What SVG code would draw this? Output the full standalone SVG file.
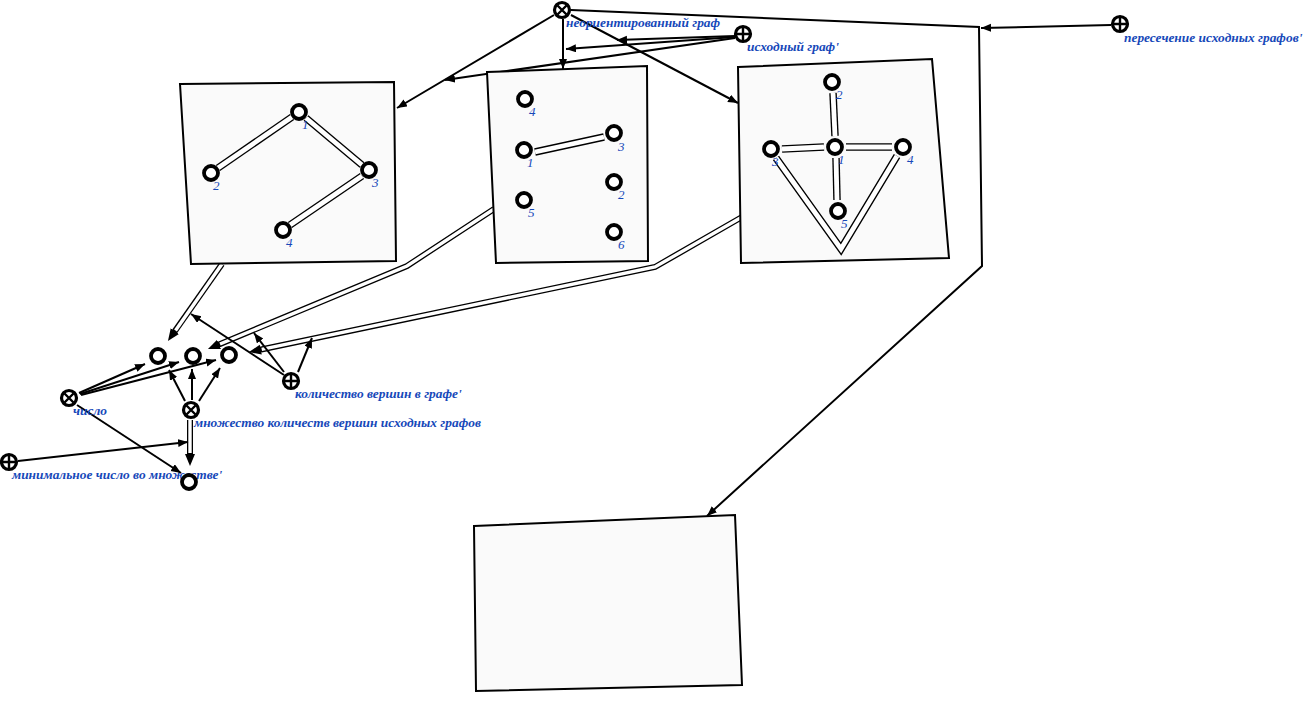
<svg xmlns="http://www.w3.org/2000/svg" width="1307" height="701" viewBox="0 0 1307 701">
<style>
.bg{fill:#ffffff}
.box{fill:#fafafa;stroke:#000;stroke-width:2}
.v{fill:#fff;stroke:#000;stroke-width:3.8}
.sym{fill:#fff;stroke:#000;stroke-width:3.2}
.x{stroke:#000;stroke-width:2.4;fill:none}
.ln{stroke:#000;stroke-width:2;fill:none}
.dO{stroke:#000;stroke-width:6;fill:none;stroke-linejoin:miter}
.dI{stroke:#fff;stroke-width:3.4;fill:none;stroke-linejoin:miter}
.eO{stroke:#000;stroke-width:7.5;fill:none;stroke-linejoin:miter}
.eI{stroke:#fff;stroke-width:4.8;fill:none;stroke-linejoin:miter}
.lbl{font-family:"Liberation Serif",serif;font-style:italic;font-weight:bold;font-size:13.4px;fill:#1648b9}
.num{font-family:"Liberation Serif",serif;font-style:italic;font-size:13px;fill:#1648b9}
</style>
<defs>
<marker id="a" markerUnits="userSpaceOnUse" markerWidth="12" markerHeight="10" refX="10" refY="4" orient="auto">
<path d="M0,0 L10,4 L0,8 z" fill="#000"/>
</marker>
<marker id="ad" markerUnits="userSpaceOnUse" markerWidth="14" markerHeight="12" refX="2" refY="5" orient="auto">
<path d="M0,0 L12,5 L0,10 z" fill="#000"/>
</marker>
</defs>
<rect class="bg" x="0" y="0" width="1307" height="701"/>

<g id="connectors">
<!-- undirected graph relation -->
<line class="ln" x1="554" y1="15" x2="397" y2="108" marker-end="url(#a)"/>
<line class="ln" x1="563" y1="19" x2="563" y2="69" marker-end="url(#a)"/>
<line class="ln" x1="571" y1="15" x2="738" y2="103" marker-end="url(#a)"/>
<polyline class="ln" points="571,10 979,27 982,266 707,516" marker-end="url(#a)"/>
<line class="ln" x1="1111" y1="25" x2="981" y2="28" marker-end="url(#a)"/>
<!-- source graph role -->
<line class="ln" x1="735" y1="36" x2="617" y2="40" marker-end="url(#a)"/>
<line class="ln" x1="735" y1="37" x2="566" y2="49" marker-end="url(#a)"/>
<line class="ln" x1="735" y1="38" x2="445" y2="80" marker-end="url(#a)"/>
<!-- double connectors from boxes -->
<line class="dO" x1="222" y1="264" x2="173.7" y2="332.8" marker-end="url(#ad)"/>
<line class="dI" x1="222" y1="264" x2="175.5" y2="330.4"/>
<polyline class="dO" points="494,209 407,266 217.2,345.2" marker-end="url(#ad)"/>
<polyline class="dI" points="494,209 407,266 220,344"/>
<polyline class="dO" points="742,217 655,267 258.8,350" marker-end="url(#ad)"/>
<polyline class="dI" points="742,217 655,267 261.7,349.3"/>
<line class="dO" x1="190" y1="420" x2="190" y2="456" marker-end="url(#ad)"/>
<line class="dI" x1="190" y1="420" x2="190" y2="453"/>
<!-- count of vertices role -->
<line class="ln" x1="284" y1="375" x2="191" y2="314" marker-end="url(#a)"/>
<line class="ln" x1="284" y1="372" x2="254" y2="333" marker-end="url(#a)"/>
<line class="ln" x1="298" y1="372" x2="312" y2="338" marker-end="url(#a)"/>
<!-- number -->
<line class="ln" x1="79" y1="393" x2="145" y2="364" marker-end="url(#a)"/>
<line class="ln" x1="80" y1="394" x2="179" y2="362" marker-end="url(#a)"/>
<line class="ln" x1="81" y1="395" x2="216" y2="360" marker-end="url(#a)"/>
<line class="ln" x1="77" y1="405" x2="181" y2="473" marker-end="url(#a)"/>
<!-- set -->
<line class="ln" x1="185" y1="401" x2="169" y2="370" marker-end="url(#a)"/>
<line class="ln" x1="192" y1="400" x2="192" y2="369" marker-end="url(#a)"/>
<line class="ln" x1="199" y1="401" x2="220" y2="368" marker-end="url(#a)"/>
<!-- minimal -->
<line class="ln" x1="18" y1="461" x2="188" y2="442" marker-end="url(#a)"/>
</g>

<g id="box1">
<polygon class="box" points="180,84 394,82 396,261 191,264"/>
<line class="eO" x1="292" y1="117" x2="218" y2="168"/>
<line class="eI" x1="292" y1="117" x2="218" y2="168"/>
<line class="eO" x1="306" y1="118" x2="362" y2="165"/>
<line class="eI" x1="306" y1="118" x2="362" y2="165"/>
<line class="eO" x1="362" y1="176" x2="290" y2="225"/>
<line class="eI" x1="362" y1="176" x2="290" y2="225"/>
<circle class="v" cx="299" cy="112" r="7"/><text class="num" x="302" y="129">1</text>
<circle class="v" cx="211" cy="173" r="7"/><text class="num" x="213" y="190">2</text>
<circle class="v" cx="369" cy="170" r="7"/><text class="num" x="372" y="187">3</text>
<circle class="v" cx="283" cy="230" r="7"/><text class="num" x="286" y="247">4</text>
</g>

<g id="box2">
<polygon class="box" points="487,72 647,66 648,261 496,263"/>
<line class="eO" x1="535" y1="152" x2="604" y2="137"/>
<line class="eI" x1="535" y1="152" x2="604" y2="137"/>
<circle class="v" cx="525" cy="99" r="7"/><text class="num" x="529" y="116">4</text>
<circle class="v" cx="524" cy="150" r="7"/><text class="num" x="527" y="167">1</text>
<circle class="v" cx="614" cy="133" r="7"/><text class="num" x="618" y="151">3</text>
<circle class="v" cx="614" cy="182" r="7"/><text class="num" x="618" y="199">2</text>
<circle class="v" cx="524" cy="200" r="7"/><text class="num" x="528" y="217">5</text>
<circle class="v" cx="614" cy="232" r="7"/><text class="num" x="618" y="249">6</text>
</g>

<g id="box3">
<polygon class="box" points="738,67 932,59 949,258 741,263"/>
<line class="eO" x1="833" y1="93" x2="835" y2="136"/>
<line class="eI" x1="833" y1="93" x2="835" y2="136"/>
<line class="eO" x1="782" y1="149" x2="824" y2="147"/>
<line class="eI" x1="782" y1="149" x2="824" y2="147"/>
<line class="eO" x1="846" y1="147" x2="892" y2="147"/>
<line class="eI" x1="846" y1="147" x2="892" y2="147"/>
<line class="eO" x1="836" y1="158" x2="837" y2="200"/>
<line class="eI" x1="836" y1="158" x2="837" y2="200"/>
<polyline class="eO" points="776,158 841,249 897,156"/>
<polyline class="eI" points="776,158 841,249 897,156"/>
<circle class="v" cx="832" cy="82" r="7"/><text class="num" x="836" y="99">2</text>
<circle class="v" cx="835" cy="147" r="7"/><text class="num" x="838" y="164">1</text>
<circle class="v" cx="771" cy="149" r="7"/><text class="num" x="772" y="166">3</text>
<circle class="v" cx="903" cy="147" r="7"/><text class="num" x="907" y="164">4</text>
<circle class="v" cx="838" cy="211" r="7"/><text class="num" x="841" y="228">5</text>
</g>

<g id="box4">
<polygon class="box" points="474,526 735,515 742,685 476,691"/>
</g>

<g id="undirected-graph">
<circle class="sym" cx="562" cy="10" r="7.5"/>
<path class="x" d="M557.5,5.5 L566.5,14.5 M566.5,5.5 L557.5,14.5"/>
<text class="lbl" x="566" y="27">неориентированный граф</text>
</g>

<g id="source-graph">
<circle class="sym" cx="743" cy="34" r="7.5"/>
<path class="x" d="M737,34 L749,34 M743,28 L743,40"/>
<text class="lbl" x="747" y="51">исходный граф'</text>
</g>

<g id="intersection">
<circle class="sym" cx="1120" cy="24" r="7.5"/>
<path class="x" d="M1114,24 L1126,24 M1120,18 L1120,30"/>
<text class="lbl" x="1124" y="42">пересечение исходных графов'</text>
</g>

<g id="count-nodes">
<circle class="v" cx="158" cy="356" r="7"/>
<circle class="v" cx="193" cy="356" r="7"/>
<circle class="v" cx="229" cy="355" r="7"/>
</g>

<g id="number">
<circle class="sym" cx="69" cy="398" r="7.5"/>
<path class="x" d="M64.5,393.5 L73.5,402.5 M73.5,393.5 L64.5,402.5"/>
<text class="lbl" x="73" y="415">число</text>
</g>

<g id="set">
<circle class="sym" cx="191" cy="410" r="7.5"/>
<path class="x" d="M186.5,405.5 L195.5,414.5 M195.5,405.5 L186.5,414.5"/>
<text class="lbl" x="194" y="427">множество количеств вершин исходных графов</text>
</g>

<g id="vertex-count">
<circle class="sym" cx="291" cy="381" r="7.5"/>
<path class="x" d="M285,381 L297,381 M291,375 L291,387"/>
<text class="lbl" x="295" y="398">количество вершин в графе'</text>
</g>

<g id="minimal">
<circle class="sym" cx="9" cy="462" r="7.5"/>
<path class="x" d="M3,462 L15,462 M9,456 L9,468"/>
<text class="lbl" x="12" y="479">минимальное число во множестве'</text>
</g>

<g id="min-node">
<circle class="v" cx="189" cy="482" r="7"/>
</g>
</svg>
